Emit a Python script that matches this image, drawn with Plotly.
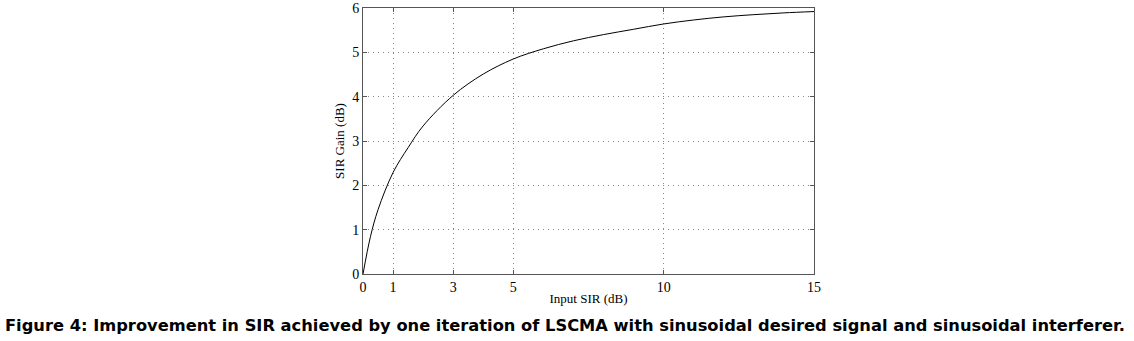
import plotly.graph_objects as go

input_sir = [0, 0.25, 0.5, 1, 1.5, 2, 3, 4, 5, 6, 7, 8, 9, 10, 11, 12, 13, 14, 15]
sir_gain = [0.0, 0.85, 1.45, 2.29, 2.85, 3.34, 4.03, 4.51, 4.85, 5.08, 5.26, 5.40, 5.52, 5.64, 5.73, 5.80, 5.85, 5.89, 5.92]

x_ticks = [0, 1, 3, 5, 10, 15]
y_ticks = [0, 1, 2, 3, 4, 5, 6]
caption = "Figure 4: Improvement in SIR achieved by one iteration of LSCMA with sinusoidal desired signal and sinusoidal interferer."

fig = go.Figure()
fig.add_trace(go.Scatter(x=input_sir, y=sir_gain, mode="lines", line_shape="spline",
                         line=dict(color="black", width=1), showlegend=False))

axis_common = dict(showline=True, mirror="ticks", linecolor="#555", linewidth=1,
                   ticks="inside", ticklen=4, tickcolor="#555",
                   showgrid=True, gridcolor="#888", griddash="1px,4px", gridwidth=1,
                   zeroline=False, automargin=False,
                   tickfont=dict(family="Liberation Serif", size=14, color="#000000"))

fig.update_xaxes(range=[0, 15], tickvals=x_ticks, ticktext=[str(v) for v in x_ticks],
                 title=dict(text="Input SIR (dB)", standoff=0,
                            font=dict(family="Liberation Serif", size=13, color="#000000")),
                 **axis_common)
fig.update_yaxes(range=[0, 6], tickvals=y_ticks, ticktext=[str(v) for v in y_ticks],
                 title=dict(text="SIR Gain (dB)", standoff=4,
                            font=dict(family="Liberation Serif", size=13, color="#000000")),
                 **axis_common)

fig.add_annotation(text=caption, xref="paper", yref="paper", x=0.448, y=-0.195,
                   xanchor="center", yanchor="middle", showarrow=False,
                   font=dict(family="DejaVu Sans", size=16.3, color="#000000", weight="bold"))

fig.update_layout(width=1134, height=341, paper_bgcolor="white", plot_bgcolor="white",
                  margin=dict(l=363, r=320, t=8, b=67), autosize=False)

fig.write_html("out.html")
